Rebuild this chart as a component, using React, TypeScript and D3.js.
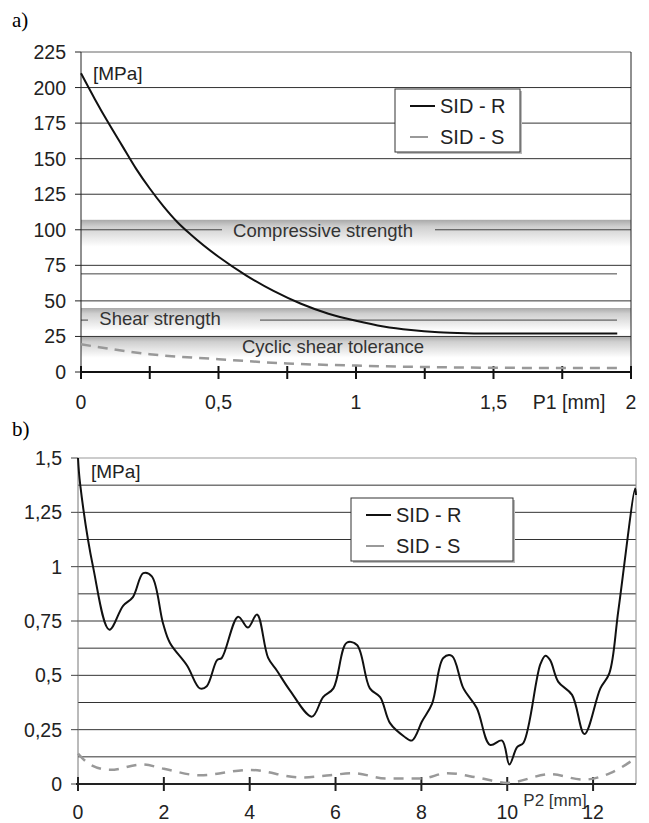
import React from "react";
import * as d3 from "d3";

// chart a) - stress vs P1
const p1R = [0, 0.05, 0.1, 0.15, 0.2, 0.25, 0.3, 0.35, 0.4, 0.5, 0.6, 0.7, 0.8, 0.9, 1.0, 1.1, 1.2, 1.3, 1.4, 1.5, 1.6, 1.7, 1.8, 1.95];
const sidRa = [210, 192, 175, 159, 143, 129, 116.5, 105.5, 96.5, 81, 68, 57, 48, 41, 36, 32, 29.5, 28, 27.3, 27, 27, 27, 27, 27];
const p1S = [0, 0.25, 0.5, 0.75, 1, 1.25, 1.5, 1.75, 1.95];
const sidSa = [19.5, 12.5, 9, 6, 4.5, 3.5, 3, 2.8, 2.8];
const yTicksA = [0, 25, 50, 75, 100, 125, 150, 175, 200, 225];
const xTicksA = [0, 0.25, 0.5, 0.75, 1, 1.25, 1.5, 1.75, 2];
const xLabelsA = [0, 0.5, 1, 1.5, 2];

// strength limits in chart a)
const limitNames = ["Compressive strength", "Shear strength", "Cyclic shear tolerance"];
const limitValues = [100, 36.5, 25];
const bandTops = [107, 45, 25];
const bandBottoms = [88, 29, 10];
const extraLine = 69;

// chart b) - stress vs P2
const p2R = [0, 0.05, 0.35, 0.73, 1.05, 1.28, 1.52, 1.72, 1.98, 2.14, 2.54, 2.84, 3.0, 3.24, 3.35, 3.73, 3.96, 4.17, 4.43, 4.64, 4.94, 5.45, 5.71, 5.95, 6.26, 6.5, 6.8, 7.04, 7.27, 7.59, 7.78, 8.02, 8.25, 8.51, 8.71, 8.98, 9.29, 9.6, 9.88, 10.05, 10.23, 10.38, 10.77, 10.89, 11.0, 11.19, 11.51, 11.8, 12.17, 12.38, 12.59, 12.98, 13];
const sidRb = [1.5, 1.38, 1.0, 0.71, 0.82, 0.86, 0.97, 0.955, 0.74, 0.65, 0.545, 0.44, 0.45, 0.57, 0.58, 0.77, 0.72, 0.78, 0.58, 0.52, 0.43, 0.31, 0.4, 0.44, 0.65, 0.64, 0.44, 0.4, 0.28, 0.22, 0.2, 0.29, 0.37, 0.58, 0.59, 0.44, 0.35, 0.18, 0.2, 0.09, 0.17, 0.19, 0.55, 0.59, 0.57, 0.47, 0.41, 0.23, 0.44, 0.51, 0.8, 1.36, 1.33];
const p2S = [0, 0.28, 0.75, 1.5, 2, 2.84, 4, 5.2, 5.87, 6.4, 7.2, 8, 8.6, 9.3, 10, 11, 11.78, 12.4, 13];
const sidSb = [0.14, 0.09, 0.065, 0.09, 0.07, 0.04, 0.065, 0.03, 0.04, 0.05, 0.025, 0.025, 0.05, 0.03, 0.005, 0.045, 0.02, 0.05, 0.12];
const yTicksB = [0, 0.25, 0.5, 0.75, 1, 1.25, 1.5];
const gridB = d3.range(0, 1.5001, 0.125);
const xTicksB = [0, 2, 4, 6, 8, 10, 12];

const seriesNames = ["SID - R", "SID - S"];

const font = "'Liberation Sans', Arial, sans-serif";
const comma = (v: number) => String(v).replace(".", ",");

function Legend({ x, y, w, h }: { x: number; y: number; w: number; h: number }) {
  return (
    <g>
      <rect x={x + 2} y={y + 2} width={w} height={h} fill="#bbb" />
      <rect x={x} y={y} width={w} height={h} fill="#fff" stroke="#333" strokeWidth={1} />
      <line x1={x + 15} x2={x + 40} y1={y + 17} y2={y + 17} stroke="#111" strokeWidth={2} />
      <line x1={x + 15} x2={x + 33} y1={y + 48} y2={y + 48} stroke="#999" strokeWidth={2} />
      <text x={x + 45} y={y + 24} fontSize={20} fill="#222">{seriesNames[0]}</text>
      <text x={x + 45} y={y + 55} fontSize={20} fill="#222">{seriesNames[1]}</text>
    </g>
  );
}

function ChartA() {
  const x = d3.scaleLinear().domain([0, 2]).range([81, 631]);
  const y = d3.scaleLinear().domain([0, 225]).range([372, 52]);
  const lineR = d3.line<number>().x((_, i) => x(p1R[i])).y(d => y(d)).curve(d3.curveMonotoneX);
  const lineS = d3.line<number>().x((_, i) => x(p1S[i])).y(d => y(d)).curve(d3.curveMonotoneX);
  // gaps in limit lines where the labels sit
  const gaps = [[222, 435], [88, 260], null];
  const lineEnds = [631, 617, 631];
  const labelX = [323, 160, 333];
  const labelY = [237, 325, 353];
  return (
    <g fontFamily={font}>
      <defs>
        <linearGradient id="band" x1="0" x2="0" y1="0" y2="1">
          <stop offset="0" stopColor="#a9a9a9" />
          <stop offset="0.25" stopColor="#cfcfcf" />
          <stop offset="1" stopColor="#fff" />
        </linearGradient>
      </defs>
      {limitValues.map((v, i) => (
        <rect key={i} x={x(0)} width={x(2) - x(0)} y={y(bandTops[i])} height={y(bandBottoms[i]) - y(bandTops[i])} fill="url(#band)" />
      ))}
      {yTicksA.filter(t => t > 0 && t !== 100).map(t => (
        <line key={t} x1={x(0)} x2={x(2)} y1={y(t)} y2={y(t)} stroke={t === 225 ? "#666" : "#333"} strokeWidth={1} />
      ))}
      <line x1={x(0)} x2={617} y1={y(extraLine)} y2={y(extraLine)} stroke="#444" strokeWidth={1} />
      {limitValues.map((v, i) => {
        const g = gaps[i];
        if (i === 2) return null;
        return (
          <g key={i}>
            <line x1={x(0)} x2={g ? g[0] : lineEnds[i]} y1={y(v)} y2={y(v)} stroke="#444" />
            {g && <line x1={g[1]} x2={lineEnds[i]} y1={y(v)} y2={y(v)} stroke="#444" />}
          </g>
        );
      })}
      {limitNames.map((n, i) => (
        <text key={n} x={labelX[i]} y={labelY[i]} fontSize={18.5} textAnchor="middle" fill="#333">{n}</text>
      ))}
      {/* axes */}
      <line x1={x(0)} x2={x(0)} y1={y(225)} y2={y(0)} stroke="#222" />
      <line x1={x(2)} x2={x(2)} y1={y(225)} y2={y(0)} stroke="#222" />
      {yTicksA.map(t => (
        <g key={t}>
          <line x1={x(0) - 6} x2={x(0)} y1={y(t)} y2={y(t)} stroke="#222" />
          <text x={66} y={y(t) + 7} fontSize={19.5} textAnchor="end" fill="#222">{t}</text>
        </g>
      ))}
      <line x1={x(0)} x2={x(2)} y1={y(0)} y2={y(0)} stroke="#111" strokeWidth={2} />
      {xTicksA.map(t => (
        <line key={t} x1={x(t)} x2={x(t)} y1={y(0) - 6} y2={y(0) + 7} stroke="#111" strokeWidth={2} />
      ))}
      {xLabelsA.map(t => (
        <text key={t} x={x(t)} y={409} fontSize={19.5} textAnchor="middle" fill="#222">{comma(t)}</text>
      ))}
      <text x={569} y={409} fontSize={19.5} textAnchor="middle" fill="#222">P1 [mm]</text>
      <text x={93} y={80} fontSize={19} fill="#222">[MPa]</text>
      {/* series */}
      <path d={lineS(sidSa) || ""} fill="none" stroke="#999" strokeWidth={2.5} strokeDasharray="10 7" />
      <path d={lineR(sidRa) || ""} fill="none" stroke="#111" strokeWidth={2} />
      <Legend x={395} y={89} w={125} h={63} />
      <text x={12} y={27} fontSize={21} fontFamily="'Liberation Serif', 'Times New Roman', serif">a)</text>
    </g>
  );
}

function ChartB() {
  const x = d3.scaleLinear().domain([0, 13]).range([78, 636]);
  const y = d3.scaleLinear().domain([0, 1.5]).range([784, 458]);
  const lineR = d3.line<number>().x((_, i) => x(p2R[i])).y(d => y(d)).curve(d3.curveCatmullRom.alpha(0.5));
  const lineS = d3.line<number>().x((_, i) => x(p2S[i])).y(d => y(d)).curve(d3.curveMonotoneX);
  return (
    <g fontFamily={font}>
      {gridB.filter(t => t > 0).map(t => (
        <line key={t} x1={x(0)} x2={x(13)} y1={y(t)} y2={y(t)} stroke={t > 1.49 ? "#999" : "#333"} strokeWidth={1} />
      ))}
      <line x1={x(0)} x2={x(0)} y1={y(1.5)} y2={y(0)} stroke="#777" />
      <line x1={x(13)} x2={x(13)} y1={y(1.5)} y2={y(0)} stroke="#888" />
      {yTicksB.map(t => (
        <g key={t}>
          <line x1={x(0) - 7} x2={x(0)} y1={y(t)} y2={y(t)} stroke="#444" />
          <text x={62} y={y(t) + 7} fontSize={19.5} textAnchor="end" fill="#222">{comma(t)}</text>
        </g>
      ))}
      <line x1={x(0) - 2} x2={x(13)} y1={y(0)} y2={y(0)} stroke="#222" strokeWidth={2} />
      {xTicksB.map(t => (
        <g key={t}>
          <line x1={x(t)} x2={x(t)} y1={y(0) - 7} y2={y(0) + 7} stroke="#222" strokeWidth={2} />
          <text x={x(t)} y={819} fontSize={19.5} textAnchor="middle" fill="#222">{t}</text>
        </g>
      ))}
      <text x={555} y={806} fontSize={17} textAnchor="middle" fill="#333">P2 [mm]</text>
      <text x={91} y={478} fontSize={19} fill="#222">[MPa]</text>
      <path d={lineS(sidSb) || ""} fill="none" stroke="#999" strokeWidth={2.5} strokeDasharray="10 8" />
      <path d={lineR(sidRb) || ""} fill="none" stroke="#111" strokeWidth={2} />
      <Legend x={351} y={498} w={162} h={63} />
      <text x={12} y={436} fontSize={21} fontFamily="'Liberation Serif', 'Times New Roman', serif">b)</text>
    </g>
  );
}

export default function App() {
  return (
    <div style={{ position: "absolute", left: 0, top: 0, background: "#fff" }}>
      <svg width={649} height={823} style={{ display: "block" }}>
        <rect width={649} height={823} fill="#fff" />
        <ChartA />
        <ChartB />
      </svg>
    </div>
  );
}
